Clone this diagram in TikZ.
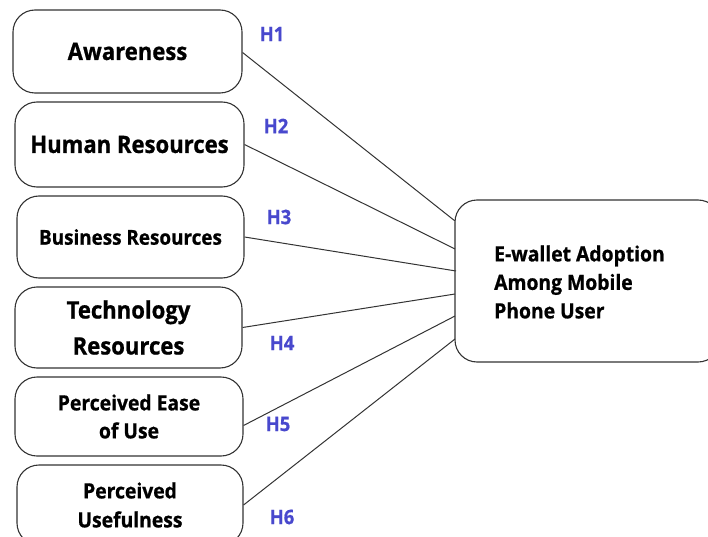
\documentclass[tikz,border=0pt]{standalone}
\usepackage{fontspec}
\setmainfont{Open Sans}[FakeStretch=0.92,BoldFeatures={FakeBold=0.8}]
\begin{document}
\begin{tikzpicture}[x=1pt,y=-1pt,
  box/.style={draw=black!80,line width=1.1pt,rounded corners=22pt,inner sep=0pt,align=center,font=\bfseries},
  link/.style={draw=black!80,line width=1pt},
  hyp/.style={text=hblue,font=\bfseries\fontsize{20}{22}\selectfont,inner sep=0pt}]
\definecolor{hblue}{RGB}{72,72,205}
\useasboundingbox (0,0) rectangle (708,537);
\clip (0,0) rectangle (708,537);
\node[box,minimum width=229pt,minimum height=83pt,font=\bfseries\fontsize{24}{28}\selectfont] (b1) at (127.5,51.5) {Awareness};
\node[box,minimum width=229pt,minimum height=85pt,font=\bfseries\fontsize{24}{28}\selectfont] (b2) at (129.5,144.5) {Human Resources};
\node[box,minimum width=227pt,minimum height=82pt,font=\bfseries\fontsize{20.5}{24}\selectfont] (b3) at (130.5,237) {Business Resources};
\node[box,minimum width=227pt,minimum height=81pt,font=\bfseries\fontsize{24}{36}\selectfont] (b4) at (128.5,327.5) {Technology\\Resources};
\node[box,minimum width=228pt,minimum height=79pt,font=\bfseries\fontsize{21}{28}\selectfont] (b5) at (129,416.5) {Perceived Ease\\of Use};
\node[box,minimum width=226pt,minimum height=80pt,font=\bfseries\fontsize{21}{29}\selectfont] (b6) at (130,505) {Perceived\\Usefulness};
\node[box,minimum width=265pt,minimum height=162pt] (r) at (587.5,281) {};
\node[anchor=west,align=left,inner sep=0pt,font=\bfseries\fontsize{21}{28.5}\selectfont] (rt) at (494,282) {E-wallet Adoption\\Among Mobile\\Phone User};
\coordinate (p1) at (455,221);
\coordinate (p2) at (455,249);
\coordinate (p3) at (456,271);
\coordinate (p4) at (455,294);
\coordinate (p5) at (455,316);
\coordinate (p6) at (455,339);
\draw[link] ([yshift=-1pt]b1.east) -- (p1);
\draw[link] (b2.east) -- (p2);
\draw[link] (b3.east) -- (p3);
\draw[link] (b4.east) -- (p4);
\draw[link] ([yshift=-9pt]b5.east) -- (p5);
\draw[link] (b6.east) -- (p6);
\node[hyp] (h1) at (272,34) {H1};
\node[hyp] (h2) at (276,126) {H2};
\node[hyp] (h3) at (279,217) {H3};
\node[hyp] (h4) at (282,343) {H4};
\node[hyp] (h5) at (278,424) {H5};
\node[hyp] (h6) at (282,517) {H6};
\end{tikzpicture}
\end{document}
